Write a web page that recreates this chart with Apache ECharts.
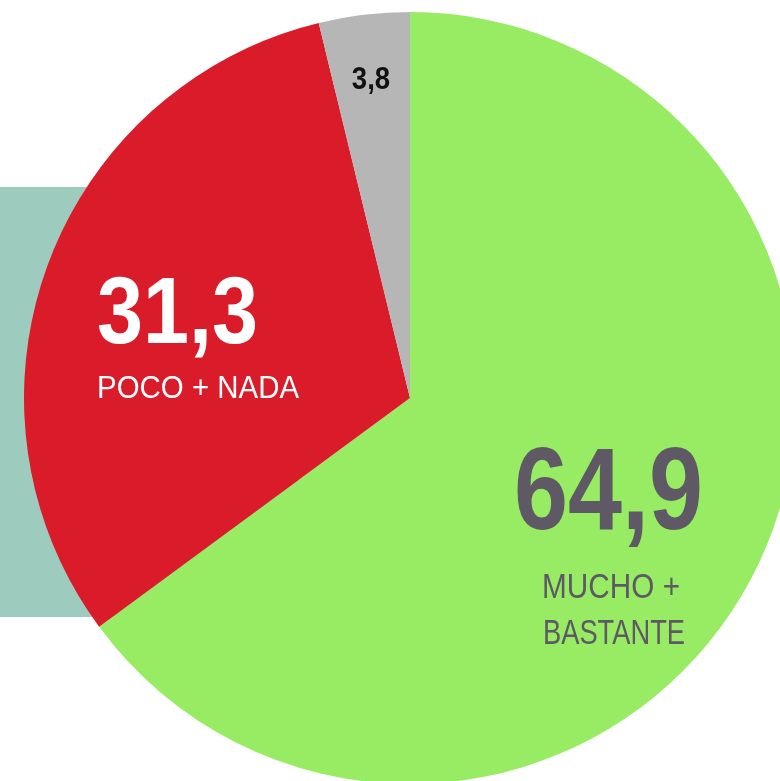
<!DOCTYPE html>
<html>
<head>
<meta charset="utf-8">
<script src="https://cdn.jsdelivr.net/npm/echarts@6/dist/echarts.min.js"></script>
<style>
  html, body { margin: 0; padding: 0; background: #fff; }
  #chart { width: 780px; height: 781px; }
</style>
</head>
<body>
<div id="chart"></div>
<script>
// datos
var categorias = ['MUCHO + BASTANTE', 'POCO + NADA', 'NS/NC'];
var valores = [64.9, 31.3, 3.8];
var colores = ['#97ec63', '#d91b2a', '#b6b6b6'];

var fmt = function (v) { return String(v).replace('.', ','); };
var fuente = '"Liberation Sans", Arial, sans-serif';

// texto estrecho (escala horizontal)
var texto = function (txt, x, y, size, bold, color, sx, align) {
    return {
        type: 'text', z: 100, x: x, y: y, scaleX: sx, scaleY: 1,
        style: {
            text: txt, fill: color, x: 0, y: 0,
            font: (bold ? 'bold ' : '') + size + 'px ' + fuente,
            align: align || 'left', verticalAlign: 'middle'
        }
    };
};
var mucho = categorias[0].split(' + ');

var myChart = echarts.init(document.getElementById('chart'));
var option = {
    animation: false,
    graphic: [
        // rectangulo de fondo
        { type: 'rect', z: -10, shape: { x: 0, y: 187, width: 300, height: 430 }, style: { fill: '#9dcbbd' } },
        texto(fmt(valores[2]), 371, 80, 32, true, '#111', 0.86, 'center'),
        texto(fmt(valores[1]), 97, 317, 95, true, '#fff', 0.87),
        texto(categorias[1], 97, 389, 32, false, '#fff', 0.92),
        texto(fmt(valores[0]), 514, 497, 117, true, '#5e5965', 0.83),
        texto(mucho[0] + ' +', 611, 588, 35, false, '#5e5965', 0.85, 'center'),
        texto(mucho[1], 614, 634, 35, false, '#5e5965', 0.78, 'center')
    ],
    series: [{
        type: 'pie',
        center: [410, 398],
        radius: [0, 386],
        startAngle: 90,
        clockwise: true,
        label: { show: false },
        labelLine: { show: false },
        itemStyle: { borderWidth: 0 },
        data: categorias.map(function (c, i) {
            return { name: c, value: valores[i], itemStyle: { color: colores[i] } };
        })
    }]
};
myChart.setOption(option);
</script>
</body>
</html>
